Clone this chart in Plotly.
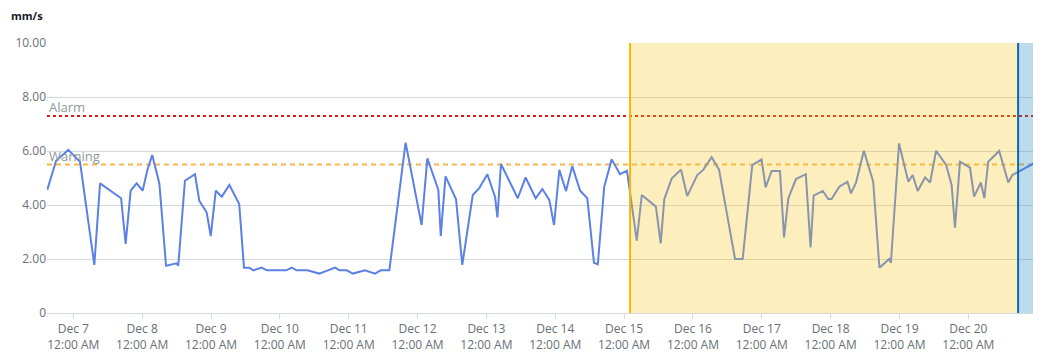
import plotly.graph_objects as go

# Vibration velocity readings (mm/s)
times = [
    "2023-12-06 14:55", "2023-12-06 18:00", "2023-12-06 22:15", "2023-12-07 02:20",
    "2023-12-07 07:20", "2023-12-07 09:20", "2023-12-07 16:40", "2023-12-07 18:15",
    "2023-12-07 20:00", "2023-12-07 22:05", "2023-12-08 00:10", "2023-12-08 01:50",
    "2023-12-08 03:30", "2023-12-08 06:00", "2023-12-08 08:20", "2023-12-08 12:00",
    "2023-12-08 12:35", "2023-12-08 14:55", "2023-12-08 18:25", "2023-12-08 19:55",
    "2023-12-08 22:30", "2023-12-08 23:55", "2023-12-09 01:40", "2023-12-09 03:45",
    "2023-12-09 06:25", "2023-12-09 09:50", "2023-12-09 11:30", "2023-12-09 13:20",
    "2023-12-09 14:45", "2023-12-09 17:40", "2023-12-09 19:25", "2023-12-10 02:10",
    "2023-12-10 04:10", "2023-12-10 05:50", "2023-12-10 09:35", "2023-12-10 13:45",
    "2023-12-10 19:15", "2023-12-10 20:45", "2023-12-10 23:20", "2023-12-11 01:25",
    "2023-12-11 05:40", "2023-12-11 09:10", "2023-12-11 11:10", "2023-12-11 14:10",
    "2023-12-11 19:50", "2023-12-12 01:25", "2023-12-12 03:25", "2023-12-12 07:15",
    "2023-12-12 08:05", "2023-12-12 09:45", "2023-12-12 13:25", "2023-12-12 15:35",
    "2023-12-12 19:15", "2023-12-12 21:30", "2023-12-13 00:20", "2023-12-13 03:00",
    "2023-12-13 03:50", "2023-12-13 05:05", "2023-12-13 10:55", "2023-12-13 13:40",
    "2023-12-13 17:10", "2023-12-13 19:30", "2023-12-13 21:55", "2023-12-13 23:35",
    "2023-12-14 01:25", "2023-12-14 03:45", "2023-12-14 05:55", "2023-12-14 08:40",
    "2023-12-14 11:10", "2023-12-14 13:30", "2023-12-14 14:50", "2023-12-14 17:05",
    "2023-12-14 19:40", "2023-12-14 22:35", "2023-12-15 01:00", "2023-12-15 04:25",
    "2023-12-15 06:10", "2023-12-15 11:05", "2023-12-15 12:45", "2023-12-15 14:00",
    "2023-12-15 16:35", "2023-12-15 19:50", "2023-12-15 22:00", "2023-12-16 01:30",
    "2023-12-16 03:35", "2023-12-16 06:30", "2023-12-16 09:05", "2023-12-16 14:40",
    "2023-12-16 17:20", "2023-12-16 20:40", "2023-12-16 23:55", "2023-12-17 01:20",
    "2023-12-17 03:25", "2023-12-17 06:20", "2023-12-17 07:45", "2023-12-17 09:15",
    "2023-12-17 11:55", "2023-12-17 15:20", "2023-12-17 17:00", "2023-12-17 18:05",
    "2023-12-17 21:15", "2023-12-17 23:10", "2023-12-18 00:20", "2023-12-18 03:00",
    "2023-12-18 05:50", "2023-12-18 07:05", "2023-12-18 08:50", "2023-12-18 11:35",
    "2023-12-18 14:50", "2023-12-18 17:00", "2023-12-18 20:25", "2023-12-18 21:00",
    "2023-12-18 23:50", "2023-12-19 03:05", "2023-12-19 04:35", "2023-12-19 06:20",
    "2023-12-19 08:55", "2023-12-19 10:40", "2023-12-19 12:45", "2023-12-19 16:15",
    "2023-12-19 18:10", "2023-12-19 19:20", "2023-12-19 21:05", "2023-12-20 00:35",
    "2023-12-20 02:00", "2023-12-20 04:20", "2023-12-20 05:35", "2023-12-20 06:55",
    "2023-12-20 10:45", "2023-12-20 13:55", "2023-12-20 15:20", "2023-12-20 17:25",
    "2023-12-20 23:15",
]
values = [
    4.56, 5.64, 6.04, 5.60,
    1.78, 4.80, 4.25, 2.56,
    4.53, 4.80, 4.53, 5.30,
    5.85, 4.80, 1.75, 1.84,
    1.75, 4.90, 5.14, 4.16,
    3.72, 2.85, 4.53, 4.31,
    4.74, 4.04, 1.68, 1.68,
    1.58, 1.68, 1.58, 1.58,
    1.68, 1.58, 1.58, 1.46,
    1.68, 1.58, 1.58, 1.46,
    1.58, 1.46, 1.58, 1.58,
    6.31, 3.26, 5.73, 4.56,
    2.85, 5.06, 4.21, 1.78,
    4.37, 4.62, 5.14, 4.31,
    3.54, 5.52, 4.25, 5.02,
    4.25, 4.59, 4.19, 3.26,
    5.30, 4.52, 5.44, 4.53,
    4.25, 1.86, 1.80, 4.68,
    5.69, 5.14, 5.27, 2.68,
    4.37, 3.94, 2.58, 4.21,
    4.98, 5.31, 4.33, 5.11,
    5.30, 5.77, 5.31, 2.00,
    2.00, 5.48, 5.69, 4.65,
    5.26, 5.26, 2.80, 4.25,
    4.96, 5.14, 2.43, 4.35,
    4.52, 4.22, 4.22, 4.68,
    4.86, 4.43, 4.83, 6.01,
    4.86, 1.68, 2.00, 1.86,
    6.28, 4.86, 5.11, 4.52,
    5.02, 4.83, 6.01, 5.48,
    4.74, 3.16, 5.60, 5.38,
    4.31, 4.83, 4.25, 5.60,
    6.00, 4.83, 5.11, 5.23,
    5.57,
]

# Threshold levels
alarm_level = 7.3
warning_level = 5.5

# Highlighted periods
period_start = "2023-12-15 02:05"
period_end = "2023-12-20 17:20"
x_range = ["2023-12-06 14:50", "2023-12-20 22:32"]

# Day ticks
tick_dates = [f"2023-12-{d:02d}" for d in range(7, 21)]
tick_labels = [f"Dec {d}<br>12:00 AM" for d in range(7, 21)]
y_ticks = [0, 2, 4, 6, 8, 10]
y_tick_labels = ["0", "2.00", "4.00", "6.00", "8.00", "10.00"]

LINE_BLUE = "#5b80e6"
GRID = "#d5d9dd"
TEXT_GRAY = "#687078"
FONT = "Open Sans"

fig = go.Figure()

fig.add_trace(go.Scatter(
    x=x_range, y=[alarm_level, alarm_level], mode="lines",
    line=dict(color="#d91a12", width=2, dash="3px,3px"),
    hoverinfo="skip", showlegend=False,
))
fig.add_trace(go.Scatter(
    x=x_range, y=[warning_level, warning_level], mode="lines",
    line=dict(color="#f9b54c", width=2, dash="5px,4px"),
    hoverinfo="skip", showlegend=False,
))
fig.add_trace(go.Scatter(
    x=times, y=values, mode="lines",
    line=dict(color=LINE_BLUE, width=2),
    hoverinfo="x+y", showlegend=False,
))
fig.add_trace(go.Scatter(
    x=[times[-1]], y=[values[-1]], mode="markers",
    marker=dict(color=LINE_BLUE, size=6),
    cliponaxis=False, hoverinfo="skip", showlegend=False,
))

# Shaded periods drawn over the series
fig.add_shape(type="rect", xref="x", yref="paper",
              x0=period_start, x1=period_end, y0=0, y1=1,
              fillcolor="rgba(250,200,40,0.3)", line=dict(width=0), layer="above")
fig.add_shape(type="rect", xref="x", yref="paper",
              x0=period_end, x1=x_range[1], y0=0, y1=1,
              fillcolor="rgba(32,138,192,0.3)", line=dict(width=0), layer="above")
fig.add_shape(type="line", xref="x", yref="paper",
              x0=period_start, x1=period_start, y0=0, y1=1,
              line=dict(color="#f5b800", width=2), layer="above")
fig.add_shape(type="line", xref="x", yref="paper",
              x0=period_end, x1=period_end, y0=0, y1=1,
              line=dict(color="#0a6ab8", width=2), layer="above")

fig.add_annotation(text="Alarm", xref="paper", yref="y", x=0, y=alarm_level,
                   xanchor="left", yanchor="bottom", showarrow=False, yshift=-2,
                   font=dict(family=FONT, size=13, color="#8d9999"))
fig.add_annotation(text="Warning", xref="paper", yref="y", x=0, y=warning_level,
                   xanchor="left", yanchor="bottom", showarrow=False, yshift=-2,
                   font=dict(family=FONT, size=13, color="#8d9999"))
fig.add_annotation(text="<b>mm/s</b>", xref="paper", yref="paper",
                   x=-38 / 986, y=(313 - 15) / 270, xanchor="left", yanchor="middle",
                   showarrow=False, font=dict(family=FONT, size=11, color="#16191f"))

fig.update_layout(
    width=1044, height=352,
    margin=dict(l=47, r=11, t=43, b=39, autoexpand=False),
    paper_bgcolor="white", plot_bgcolor="white",
    font=dict(family=FONT, size=12, color=TEXT_GRAY),
    showlegend=False,
)
fig.update_xaxes(
    range=x_range, tickvals=tick_dates, ticktext=tick_labels, automargin=False,
    showgrid=False, zeroline=False, showline=True, linecolor=GRID, linewidth=1,
    ticks="outside", ticklen=5, tickcolor=GRID,
    tickfont=dict(family=FONT, size=12, color=TEXT_GRAY),
)
fig.update_yaxes(
    range=[0, 10], tickvals=y_ticks, ticktext=y_tick_labels, automargin=False,
    showgrid=True, gridcolor=GRID, gridwidth=1, zeroline=False, showline=False,
    ticks="", tickfont=dict(family=FONT, size=12, color=TEXT_GRAY),
)

fig.write_html("out.html")
